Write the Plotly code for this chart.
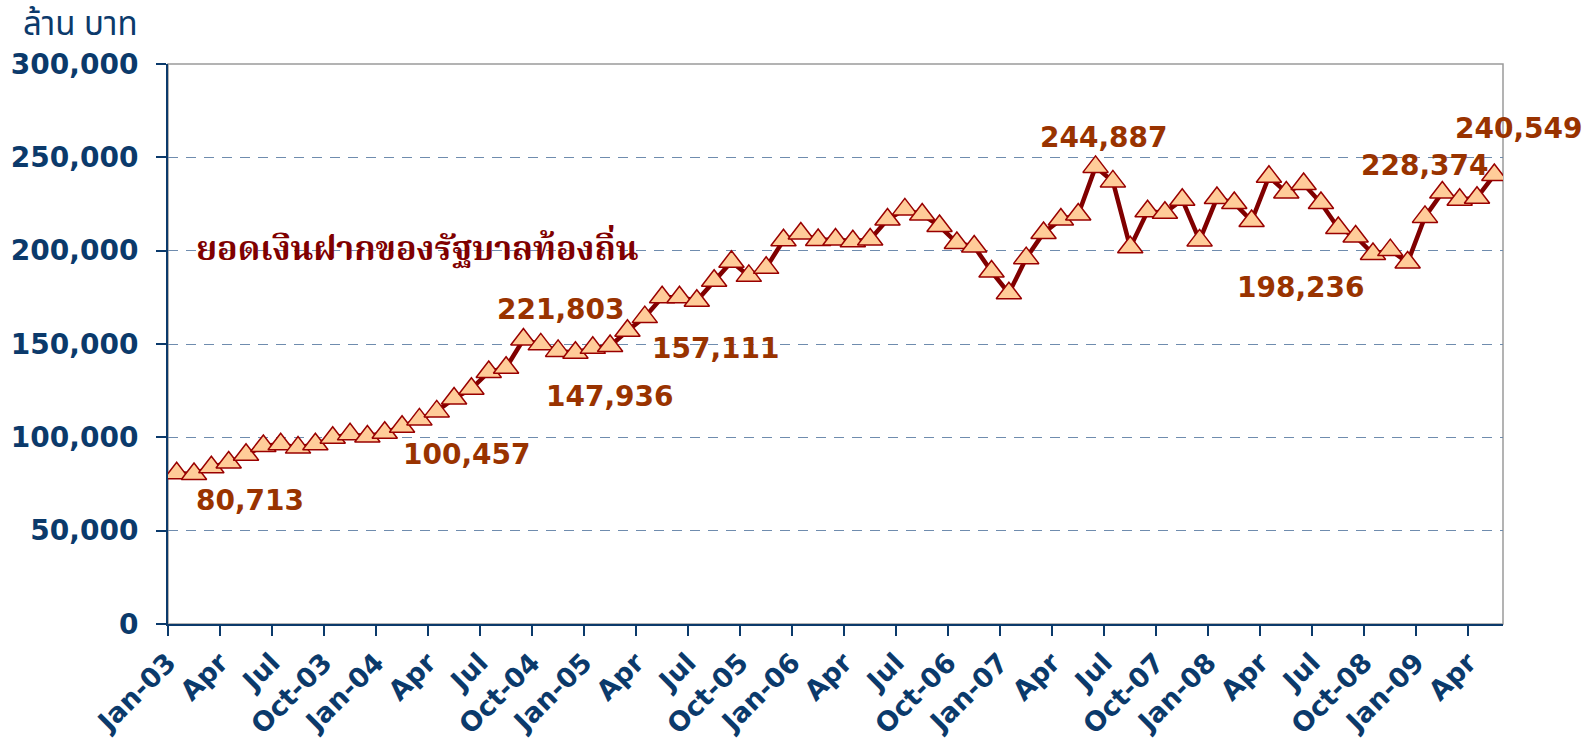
"""
ยอดเงินฝากของรัฐบาลท้องถิ่น (ล้านบาท) รายเดือน Jan-03 ถึง May-09
"""

import plotly.graph_objects as go

# ยอดเงินฝาก รายเดือน (ล้านบาท) เริ่ม Jan-03
deposits = [
    80713, 80400, 84000, 86500, 90700, 95400, 96300, 94500, 96300, 99800, 101600, 100457,
    102500, 105700, 109600, 113900, 120800, 126000, 135000, 137300, 152400, 149800, 146300, 145300,
    147936, 148900, 157111, 164400, 175000, 175000, 173200, 183900, 194100, 186500, 190800, 205600,
    209200, 205700, 206000, 205000, 206000, 216700, 222100, 219400, 213200, 204100, 202200, 188800,
    177200, 196000, 209500, 216700, 219400, 244887, 237100, 201800, 221100, 220300, 227300, 205500,
    228200, 225500, 215900, 239600, 231200, 235700, 225500, 212100, 207600, 198236, 200300, 193700,
    218100, 231200, 227300, 228374, 240549,
]

# ป้ายแกน x ทุก 3 เดือน
tick_labels = [
    'Jan-03', 'Apr', 'Jul', 'Oct-03', 'Jan-04', 'Apr', 'Jul', 'Oct-04', 'Jan-05', 'Apr', 'Jul',
    'Oct-05', 'Jan-06', 'Apr', 'Jul', 'Oct-06', 'Jan-07', 'Apr', 'Jul', 'Oct-07', 'Jan-08', 'Apr',
    'Jul', 'Oct-08', 'Jan-09', 'Apr',
]

# ตัวเลขที่เขียนกำกับบนกราฟ
callout_texts = ['80,713', '100,457', '221,803', '147,936', '157,111',
                 '244,887', '198,236', '228,374', '240,549']

NAVY = '#0B3A6B'
LABEL_COLOR = '#993300'
FONT = 'DejaVu Sans'

x_idx = list(range(len(deposits)))

fig = go.Figure()

fig.add_trace(go.Scatter(
    x=x_idx,
    y=deposits,
    mode='lines+markers',
    line=dict(color='#800000', width=4.5),
    marker=dict(symbol='triangle-up', size=22, color='#FFCC99',
                line=dict(color='#990000', width=1.5)),
    showlegend=False,
    hovertemplate='%{y:,.0f}<extra></extra>',
))

# กรอบด้านบน/ขวาสีเทา
fig.add_shape(type='rect', xref='paper', yref='paper', x0=0, y0=0, x1=1, y1=1,
              line=dict(color='#9A9A9A', width=1.5), layer='below')

# ตำแหน่งป้ายตัวเลข (พิกเซลของภาพ)
L, R, T, B = 167.5, 1503, 64, 624
callout_pos = [(250, 500), (467, 454), (561, 309), (610, 396), (716, 348),
               (1104, 137), (1301, 287), (1425, 165), (1519, 128)]
for text, (px, py) in zip(callout_texts, callout_pos):
    fig.add_annotation(
        x=(px - L) / (R - L), y=(B - py) / (B - T), xref='paper', yref='paper',
        text=f'<b>{text}</b>', showarrow=False, xanchor='center', yanchor='middle',
        font=dict(family=FONT, size=28, color=LABEL_COLOR),
    )

# ชื่อชุดข้อมูล
fig.add_annotation(
    x=(194 - L) / (R - L), y=(B - 251) / (B - T), xref='paper', yref='paper',
    text='<b>ยอดเงินฝากของรัฐบาลท้องถิ่น</b>', showarrow=False,
    xanchor='left', yanchor='middle',
    font=dict(family='Noto Serif Thai, Noto Sans Thai, Loma, Garuda, serif', size=34, color='#800000'),
)

# หน่วย
fig.add_annotation(
    x=(20 - L) / (R - L), y=(B - 25) / (B - T), xref='paper', yref='paper',
    text='ล้าน บาท', showarrow=False, xanchor='left', yanchor='middle',
    font=dict(family='Noto Sans Thai, Loma, Garuda, sans-serif', size=33, color=NAVY),
)

fig.update_layout(
    width=1592,
    height=742,
    margin=dict(l=L, r=1592 - R, t=T, b=742 - B),
    paper_bgcolor='white',
    plot_bgcolor='white',
    showlegend=False,
    xaxis=dict(
        range=[-0.5, len(deposits) - 0.5],
        tickvals=[3 * k - 0.5 for k in range(len(tick_labels))],
        ticktext=[f'<b>{t}</b>' for t in tick_labels],
        tickangle=-45,
        ticks='outside', ticklen=10, tickwidth=2, tickcolor=NAVY,
        showline=True, linecolor=NAVY, linewidth=2,
        showgrid=False, zeroline=False, automargin=False,
        tickfont=dict(family=FONT, size=27, color=NAVY),
    ),
    yaxis=dict(
        range=[0, 300000],
        dtick=50000,
        tickformat=',d',
        ticks='outside', ticklen=10, tickwidth=2, tickcolor=NAVY,
        ticklabelstandoff=12,
        showline=True, linecolor=NAVY, linewidth=2,
        showgrid=True, gridcolor='#6F8CAE', gridwidth=1.3, griddash='10px,8px',
        zeroline=False, automargin=False,
        tickfont=dict(family=FONT, size=28, color=NAVY, weight='bold'),
    ),
)

# ไม่ให้ body มีขอบ 8px
fig.write_html('out.html', config={'displayModeBar': False},
               post_script="document.body.style.margin='0';")
